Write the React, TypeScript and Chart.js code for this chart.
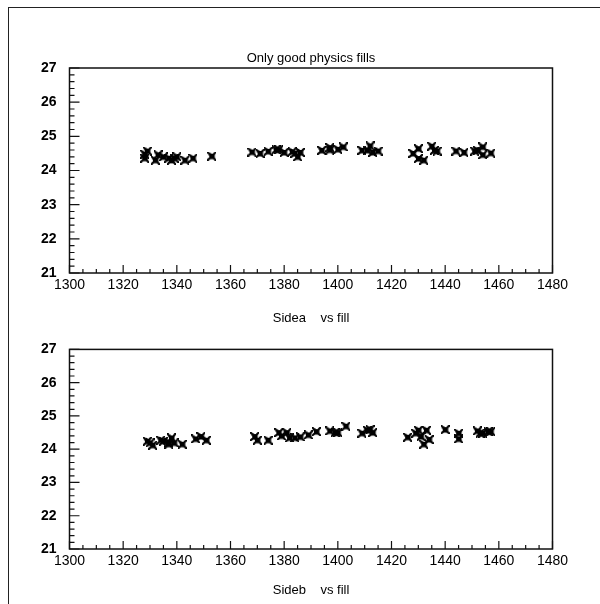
import React, { useEffect, useRef } from "react";
import { Chart, registerables } from "chart.js";
Chart.register(...registerables);

// ---- data ----
const fillsA = [1328, 1328, 1329, 1332, 1333, 1335, 1337, 1338, 1339, 1340, 1343, 1346, 1353,
  1368, 1371, 1374, 1377, 1378, 1380, 1383, 1384, 1385, 1386, 1394, 1397, 1397, 1400, 1402,
  1409, 1411, 1412, 1413, 1415, 1428, 1430, 1430, 1432, 1435, 1436, 1437, 1444, 1447, 1451,
  1452, 1454, 1454, 1457];
const sideA = [24.36, 24.48, 24.57, 24.30, 24.46, 24.40, 24.36, 24.30, 24.36, 24.40, 24.30, 24.36, 24.42,
  24.54, 24.50, 24.56, 24.61, 24.61, 24.53, 24.55, 24.50, 24.40, 24.53, 24.59, 24.67, 24.60, 24.62, 24.69,
  24.59, 24.59, 24.72, 24.53, 24.57, 24.50, 24.64, 24.35, 24.30, 24.71, 24.59, 24.57, 24.57, 24.53, 24.57,
  24.59, 24.69, 24.46, 24.51];

const fillsB = [1329, 1330, 1331, 1334, 1335, 1337, 1337, 1338, 1339, 1342, 1347, 1349, 1351,
  1369, 1370, 1374, 1378, 1379, 1381, 1382, 1384, 1386, 1389, 1392, 1397, 1399, 1400, 1403,
  1409, 1411, 1412, 1413, 1426, 1429, 1430, 1431, 1432, 1433, 1434, 1440, 1445, 1445, 1452,
  1453, 1454, 1456, 1457];
const sideB = [24.24, 24.19, 24.12, 24.27, 24.24, 24.15, 24.21, 24.34, 24.19, 24.15, 24.31, 24.38, 24.27,
  24.38, 24.27, 24.27, 24.50, 24.40, 24.50, 24.34, 24.34, 24.37, 24.43, 24.53, 24.55, 24.50, 24.50, 24.69,
  24.48, 24.57, 24.59, 24.50, 24.36, 24.48, 24.57, 24.38, 24.15, 24.57, 24.29, 24.59, 24.48, 24.31, 24.55,
  24.48, 24.48, 24.53, 24.53];

const xMin = 1300;
const xMax = 1480;
const xStep = 20;
const yMin = 21;
const yMax = 27;
const yStep = 1;

const topTitle = "Only good physics fills";
const xTitleA = "Sidea    vs fill";
const xTitleB = "Sideb    vs fill";

const FONT = "'Liberation Sans', Arial, Helvetica, sans-serif";

function makeMarker(): HTMLCanvasElement {
  const c = document.createElement("canvas");
  c.width = 9;
  c.height = 9;
  const g = c.getContext("2d")!;
  g.fillStyle = "#000";
  g.fillRect(1.5, 1.5, 6, 6);
  g.strokeStyle = "#000";
  g.lineWidth = 2;
  g.beginPath();
  g.moveTo(0, 0);
  g.lineTo(9, 9);
  g.moveTo(9, 0);
  g.lineTo(0, 9);
  g.stroke();
  g.clearRect(3.5, 0, 2, 1.5);
  g.clearRect(3.5, 7.5, 2, 1.5);
  g.clearRect(0, 3.5, 1.5, 2);
  g.clearRect(7.5, 3.5, 1.5, 2);
  return c;
}

const frameTicks = {
  id: "frameTicks",
  afterDatasetsDraw(chart: any) {
    const { ctx, chartArea: a, scales } = chart;
    const xs = scales.x;
    const ys = scales.y;
    ctx.save();
    ctx.strokeStyle = "#111";
    ctx.lineWidth = 1.5;
    ctx.strokeRect(a.left, a.top, a.right - a.left, a.bottom - a.top);
    ctx.lineWidth = 1.2;
    ctx.beginPath();
    for (let v = xs.min; v <= xs.max; v += 5) {
      const px = xs.getPixelForValue(v);
      const len = (v - xs.min) % 20 === 0 ? 8 : 4;
      ctx.moveTo(px, a.bottom);
      ctx.lineTo(px, a.bottom - len);
    }
    for (let k = 0; k <= 30; k++) {
      const v = ys.min + k * 0.2;
      const py = ys.getPixelForValue(v);
      const len = k % 5 === 0 ? 10 : 5;
      ctx.moveTo(a.left, py);
      ctx.lineTo(a.left + len, py);
    }
    ctx.stroke();
    ctx.restore();
  },
};

function buildConfig(
  xs: number[],
  ys: number[],
  opts: { title?: string; xTitle: string; padTop: number; xHeight: number; xTitlePad: number }
): any {
  const marker = makeMarker();
  return {
    type: "scatter",
    data: {
      datasets: [
        {
          data: xs.map((x, i) => ({ x, y: ys[i] })),
          pointStyle: marker,
          pointRadius: 4,
          backgroundColor: "#000",
          borderColor: "#000",
        },
      ],
    },
    options: {
      responsive: false,
      animation: false,
      devicePixelRatio: 1,
      layout: { padding: { left: 0, right: 47.5, top: opts.padTop, bottom: 0 } },
      plugins: {
        legend: { display: false },
        tooltip: { enabled: false },
        title: opts.title
          ? {
              display: true,
              text: opts.title,
              fullSize: false,
              color: "#000",
              font: { family: FONT, size: 13, weight: "normal" },
              padding: { top: 0, bottom: 1.4 },
            }
          : { display: false },
      },
      scales: {
        x: {
          type: "linear",
          min: xMin,
          max: xMax,
          grid: { display: false, drawTicks: false },
          border: { display: false },
          ticks: {
            stepSize: xStep,
            color: "#000",
            padding: 4,
            maxRotation: 0,
            autoSkip: false,
            font: { family: FONT, size: 14 },
            callback: (v: any) => String(v),
          },
          title: {
            display: true,
            text: opts.xTitle,
            color: "#000",
            font: { family: FONT, size: 13 },
            padding: { top: 0, bottom: opts.xTitlePad },
          },
          afterFit: (s: any) => {
            s.height = opts.xHeight;
          },
        },
        y: {
          type: "linear",
          min: yMin,
          max: yMax,
          grid: { display: false, drawTicks: false },
          border: { display: false },
          ticks: {
            stepSize: yStep,
            color: "#000",
            padding: 13,
            font: { family: FONT, size: 14, weight: "bold" },
          },
          afterFit: (s: any) => {
            s.width = 69.5;
          },
        },
      },
    },
    plugins: [frameTicks],
  };
}

export default function App() {
  const topRef = useRef<HTMLCanvasElement>(null);
  const botRef = useRef<HTMLCanvasElement>(null);

  useEffect(() => {
    const c1 = new Chart(
      topRef.current!,
      buildConfig(fillsA, sideA, { title: topTitle, xTitle: xTitleA, padTop: 51, xHeight: 55, xTitlePad: 2.2 })
    );
    const c2 = new Chart(
      botRef.current!,
      buildConfig(fillsB, sideB, { xTitle: xTitleB, padTop: 10, xHeight: 55, xTitlePad: 6.2 })
    );
    return () => {
      c1.destroy();
      c2.destroy();
    };
  }, []);

  return (
    <div
      style={{
        position: "absolute",
        left: 0,
        top: 0,
        width: 600,
        height: 604,
        background: "#fff",
        overflow: "hidden",
      }}
    >
      <div
        style={{
          position: "absolute",
          left: 8,
          top: 7,
          right: -2,
          bottom: -2,
          borderLeft: "1.5px solid #222",
          borderTop: "1.5px solid #222",
        }}
      />
      <canvas
        ref={topRef}
        width={600}
        height={328}
        style={{ position: "absolute", left: 0, top: 0, width: 600, height: 328 }}
      />
      <canvas
        ref={botRef}
        width={600}
        height={276}
        style={{ position: "absolute", left: 0, top: 328, width: 600, height: 276 }}
      />
    </div>
  );
}
